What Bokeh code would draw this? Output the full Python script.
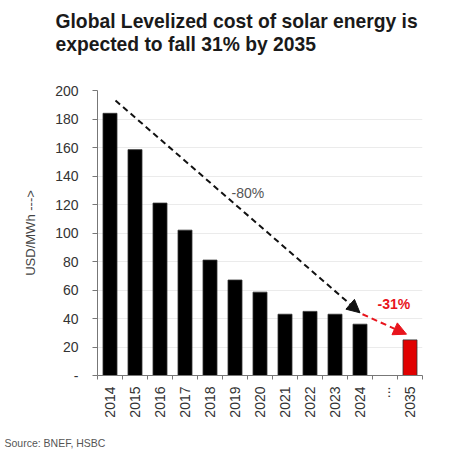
from bokeh.plotting import figure
from bokeh.models import FixedTicker, Label, Arrow, NormalHead, Range1d, ColumnDataSource, Title
from bokeh.embed import file_html
from bokeh.resources import INLINE
import math

# ---- data ----
years = ["2014", "2015", "2016", "2017", "2018", "2019", "2020",
         "2021", "2022", "2023", "2024", "...", "2035"]
costs = [184, 158.5, 121, 102, 81, 67, 58.5, 43, 45, 43, 36, None, 25]
bar_colors = ["#000000"] * 11 + [None, "#e00000"]
y_ticks = [0, 20, 40, 60, 80, 100, 120, 140, 160, 180, 200]
y_tick_labels = ["-", "20", "40", "60", "80", "100", "120", "140", "160", "180", "200"]

title_lines = ["Global Levelized cost of solar energy is",
               "expected to fall 31% by 2035"]
source_note = "Source: BNEF, HSBC"
y_label = "USD/MWh --->"

# annotation anchors (category-index units, USD/MWh)
hist_arrow = (0.22, 193, 10.0, 44)
fut_arrow = (10.1, 43, 11.86, 29)
hist_text = ("-80%", 4.86, 128)
fut_text = ("-31%", 10.7, 50.5)

FONT = "Liberation Sans"

idx = [i for i, c in enumerate(costs) if c is not None]
src = ColumnDataSource(dict(x=idx, top=[costs[i] for i in idx],
                            color=[bar_colors[i] for i in idx]))

W, H = 436, 452
p = figure(width=W, height=H, output_backend="svg", toolbar_location=None,
           x_range=Range1d(-0.5, len(years) - 0.5), y_range=Range1d(0, 200),
           min_border_left=97, min_border_right=14, min_border_top=90,
           min_border_bottom=77)
p.outline_line_color = None
p.background_fill_color = "white"

p.vbar(x="x", top="top", width=0.56, source=src, fill_color="color",
       line_color="#333333", line_width=0.8)

# axes
xa = p.xaxis[0]
xa.ticker = FixedTicker(ticks=list(range(len(years))),
                        minor_ticks=[i - 0.5 for i in range(len(years) + 1)])
xa.major_label_overrides = {i: y for i, y in enumerate(years)}
xa.major_label_orientation = math.pi / 2
xa.major_tick_out = 0
xa.major_tick_in = 0
xa.minor_tick_out = 4
xa.minor_tick_in = 0
xa.minor_tick_line_color = "#777777"
xa.axis_line_color = "#777777"
xa.major_label_text_font = FONT
xa.major_label_text_font_size = "14px"
xa.major_label_text_color = "#333333"
xa.major_label_standoff = 7

ya = p.yaxis[0]
ya.ticker = FixedTicker(ticks=y_ticks)
ya.major_label_overrides = {t: l for t, l in zip(y_ticks, y_tick_labels)}
ya.major_tick_out = 5
ya.major_tick_in = 0
ya.minor_tick_out = 0
ya.minor_tick_in = 0
ya.major_tick_line_color = "#777777"
ya.axis_line_color = "#777777"
ya.major_label_text_font = FONT
ya.major_label_text_font_size = "14px"
ya.major_label_text_color = "#333333"
ya.major_label_standoff = 14
ya.axis_label = y_label
ya.axis_label_text_font = FONT
ya.axis_label_text_font_size = "13px"
ya.axis_label_text_font_style = "normal"
ya.axis_label_text_color = "#444444"
ya.axis_label_standoff = 14

p.xgrid.grid_line_color = None
p.ygrid.grid_line_color = "#ebebeb"
p.ygrid.ticker = FixedTicker(ticks=y_ticks)

# arrows
p.add_layout(Arrow(end=NormalHead(size=13, fill_color="#111111", line_color="#111111"),
                   x_start=hist_arrow[0], y_start=hist_arrow[1],
                   x_end=hist_arrow[2], y_end=hist_arrow[3],
                   line_color="#111111", line_width=2, line_dash="6 4"))
p.add_layout(Arrow(end=NormalHead(size=13, fill_color="#e8141c", line_color="#e8141c"),
                   x_start=fut_arrow[0], y_start=fut_arrow[1],
                   x_end=fut_arrow[2], y_end=fut_arrow[3],
                   line_color="#e8141c", line_width=2, line_dash="6 4"))

p.add_layout(Label(x=hist_text[1], y=hist_text[2], text=hist_text[0],
                   text_font=FONT, text_font_size="14px", text_color="#555555",
                   text_baseline="middle", text_align="left"))
p.add_layout(Label(x=fut_text[1], y=fut_text[2], text=fut_text[0],
                   text_font=FONT, text_font_size="14px", text_color="#e8141c",
                   text_font_style="bold", text_baseline="middle", text_align="left"))

# title: spacer panel next to the frame, then a two-line title further out
p.add_layout(Title(text=" ", text_font_size="1px", standoff=32), "above")
p.add_layout(Title(text="\n".join(title_lines), align="left", offset=-42, standoff=0,
                   text_font=FONT, text_font_size="19.3px", text_font_style="bold",
                   text_line_height=1.1, text_color="#1a1a1a"), "above")

# source note: spacer under the axis, then the note
p.add_layout(Title(text=" ", text_font_size="1px", standoff=11), "below")
p.add_layout(Title(text=source_note, align="left", offset=-93, standoff=0,
                   text_font=FONT, text_font_size="10.5px", text_font_style="normal",
                   text_color="#555555"), "below")

open("out.html", "w").write(file_html(p, INLINE))
